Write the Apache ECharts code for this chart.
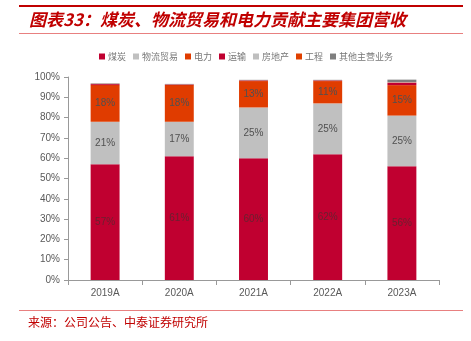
<!DOCTYPE html>
<html><head><meta charset="utf-8">
<script src="https://cdn.jsdelivr.net/npm/echarts@6/dist/echarts.min.js"></script>
<style>html,body{margin:0;padding:0;background:#fff}#c{width:471px;height:341px}</style>
</head><body><div id="c"></div>
<script>
const categories = ['2019A','2020A','2021A','2022A','2023A'];
const coal = [57, 61, 60, 62, 56];
const logistics = [21, 17, 25, 25, 25];
const power = [18, 18, 13, 11, 15];
const transport = [0.5, 0.3, 0.3, 0.3, 1.2];
const realEstate = [0.1, 0.05, 0.05, 0.05, 0.2];
const engineering = [0.1, 0.05, 0.05, 0.05, 0.1];
const others = [0.2, 0.2, 0.2, 0.2, 1.2];
const yTicks = ['0%','10%','20%','30%','40%','50%','60%','70%','80%','90%','100%'];

const names = ['煤炭','物流贸易','电力','运输','房地产','工程','其他主营业务'];
const colors = ['#C00030','#C0C0C0','#E03C00','#C00030','#BFBFBF','#E04000','#7F7F7F'];
const datas = [coal, logistics, power, transport, realEstate, engineering, others];
const fontCJK = '"Noto Sans CJK SC", sans-serif';

const chart = echarts.init(document.getElementById('c'));
chart.setOption({
  animation: false,
  color: colors,
  graphic: [
    {type:'rect', shape:{x:19,y:5,width:444,height:2}, style:{fill:'#C00000'}},
    {type:'text', left:29, top:11, style:{text:'图表33：煤炭、物流贸易和电力贡献主要集团营收', font:'italic bold 17px ' + fontCJK, fill:'#C00000'}},
    {type:'rect', shape:{x:19,y:33,width:444,height:1}, style:{fill:'#E88080'}},
    {type:'rect', shape:{x:19,y:310,width:444,height:1}, style:{fill:'#E88080'}},
    {type:'text', left:28, top:316, style:{text:'来源：公司公告、中泰证券研究所', font:'12px ' + fontCJK, fill:'#C00000'}}
  ],
  legend: {
    top: 47, left: 94,
    icon: 'rect', itemWidth: 6, itemHeight: 6, itemGap: 7,
    textStyle: {fontSize: 9, color: '#777', fontFamily: fontCJK, padding:[0,0,0,-2]},
    data: names
  },
  grid: {left: 68, right: 32, top: 77, bottom: 61},
  xAxis: {
    type: 'category', data: categories,
    axisLine: {lineStyle: {color: '#999'}},
    axisTick: {show: true, alignWithLabel: false, lineStyle: {color: '#999'}},
    axisLabel: {color: '#595959', fontSize: 10, fontFamily: 'Liberation Sans, Arial', margin: 8}
  },
  yAxis: {
    type: 'value', min: 0, max: 100, interval: 10,
    axisLine: {show: true, lineStyle: {color: '#999'}},
    axisTick: {show: true, length: 4, lineStyle: {color: '#999'}},
    splitLine: {show: false},
    axisLabel: {color: '#595959', fontSize: 10, fontFamily: 'Liberation Sans, Arial', margin: 8,
      formatter: (v) => yTicks[Math.round(v/10)]}
  },
  series: names.map((n, i) => ({
    name: n, type: 'bar', stack: 'total', barWidth: '39%',
    data: datas[i],
    itemStyle: {color: colors[i]},
    label: {show: i < 3, position: 'inside', color: i === 0 ? '#6a2030' : '#505050', fontSize: 10,
      fontFamily: 'Liberation Sans, Arial', formatter: (p) => Math.round(p.value) + '%'}
  }))
});
</script></body></html>
